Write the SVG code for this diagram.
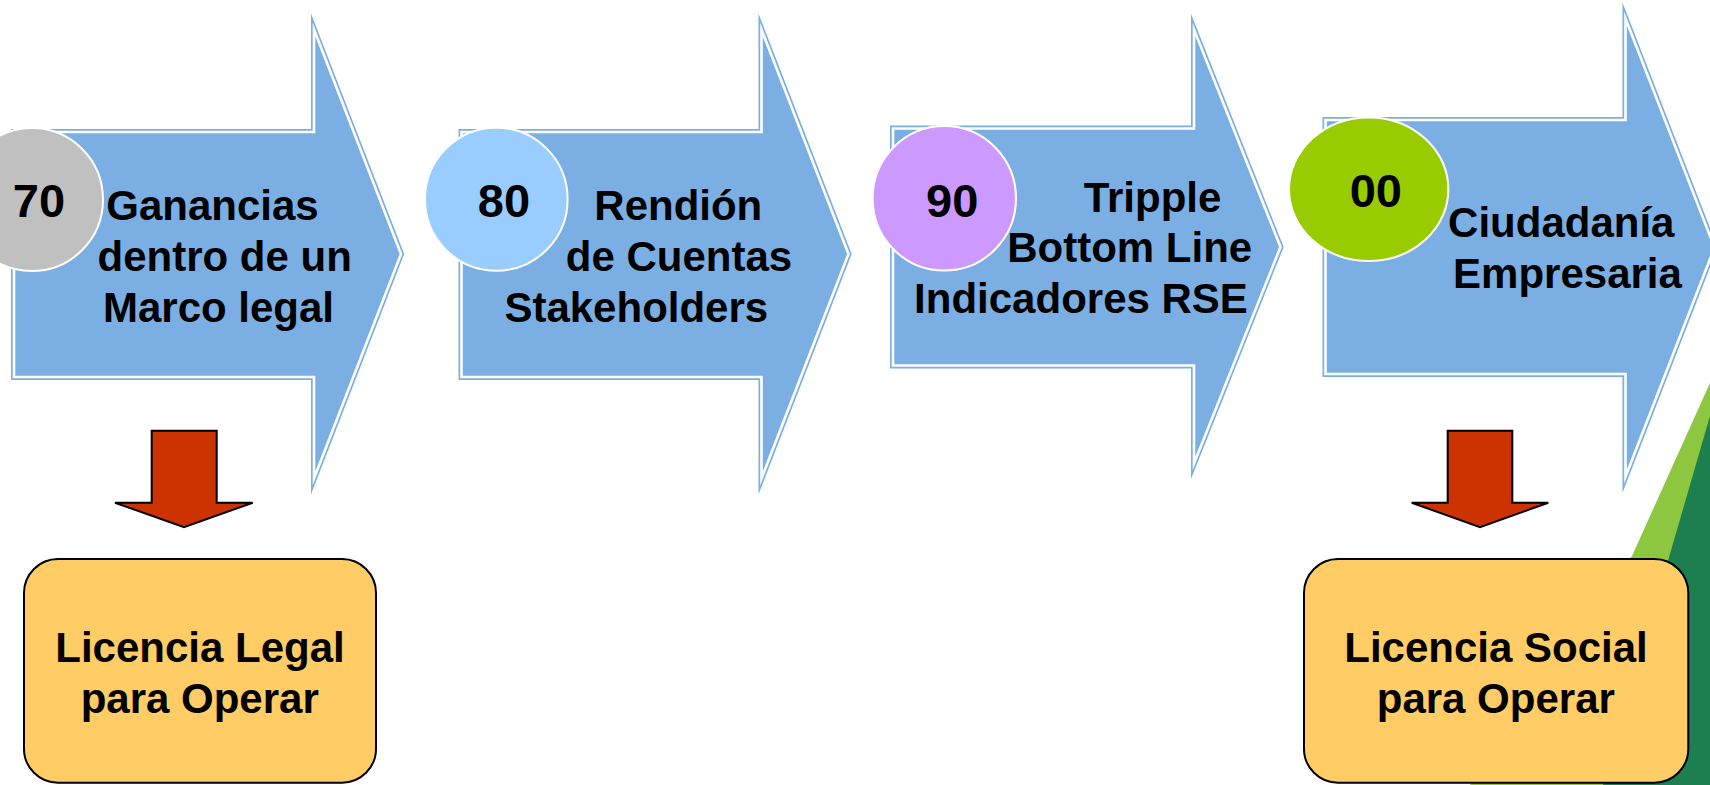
<svg xmlns="http://www.w3.org/2000/svg" width="1710" height="785" viewBox="0 0 1710 785">
<style>
.bg{fill:#ffffff}
.arrow-o{fill:#7BAEE3;stroke:#7BAEE3;stroke-width:6;stroke-linejoin:miter;stroke-miterlimit:20}
.arrow-w{fill:none;stroke:#ffffff;stroke-width:2.6;stroke-linejoin:miter;stroke-miterlimit:20}
.circ{stroke:#ffffff;stroke-width:2}
.t{font-family:"Liberation Sans",Arial,sans-serif;font-weight:bold;fill:#000000;text-anchor:middle}
.lbl{font-size:42px}
.num{font-size:47px}
.down{fill:#CC3300;stroke:#000000;stroke-width:2;stroke-linejoin:miter}
.box{fill:#FFCC66;stroke:#000000;stroke-width:2}
</style>
<rect class="bg" x="0" y="0" width="1710" height="785"/>
<g id="background">
<polygon points="1710,383 1710,785 1470,785 1632,556" fill="#8DC63F"/>
<polygon points="1710,416 1710,785 1603,785" fill="#1D7F4F"/>
</g>
<g id="step70">
<path class="arrow-o" d="M14,132 H314 V29.5 L401,254 L314,478.5 V377 H14 Z"/>
<path class="arrow-w" d="M14,132 H314 V29.5 L401,254 L314,478.5 V377 H14 Z"/>
<ellipse class="circ" cx="32" cy="199.5" rx="71" ry="71.5" fill="#C0C0C0"/>
<text class="t num" x="39" y="217">70</text>
<text class="t lbl" x="212.5" y="220">Ganancias</text>
<text class="t lbl" x="224.7" y="270.5">dentro de un</text>
<text class="t lbl" x="218.5" y="321.7">Marco legal</text>
</g>
<g id="step80">
<path class="arrow-o" d="M461.5,132 H761.5 V29.5 L848.5,254 L761.5,478.5 V377 H461.5 Z"/>
<path class="arrow-w" d="M461.5,132 H761.5 V29.5 L848.5,254 L761.5,478.5 V377 H461.5 Z"/>
<ellipse class="circ" cx="496.3" cy="199.2" rx="71.3" ry="71.5" fill="#99CCFF"/>
<text class="t num" x="504" y="217">80</text>
<text class="t lbl" x="678.3" y="220">Rendión</text>
<text class="t lbl" x="679" y="270.5">de Cuentas</text>
<text class="t lbl" x="636.3" y="321.7">Stakeholders</text>
</g>
<g id="step90">
<path class="arrow-o" d="M893,128.5 H1194 V29.5 L1280.5,247 L1194,463.5 V365.5 H893 Z"/>
<path class="arrow-w" d="M893,128.5 H1194 V29.5 L1280.5,247 L1194,463.5 V365.5 H893 Z"/>
<ellipse class="circ" cx="944.3" cy="198.3" rx="71.7" ry="72.3" fill="#CC99FF"/>
<text class="t num" x="952.2" y="217">90</text>
<text class="t lbl" x="1152.5" y="211.7">Tripple</text>
<text class="t lbl" x="1129.7" y="262.3">Bottom Line</text>
<text class="t lbl" x="1081" y="313.3">Indicadores RSE</text>
</g>
<g id="step00">
<path class="arrow-o" d="M1325.5,120 H1625.5 V18.5 L1714.5,247.6 L1625.5,476.8 V374 H1325.5 Z"/>
<path class="arrow-w" d="M1325.5,120 H1625.5 V18.5 L1714.5,247.6 L1625.5,476.8 V374 H1325.5 Z"/>
<ellipse class="circ" cx="1368.7" cy="189.2" rx="79.7" ry="71.8" fill="#99CC00"/>
<text class="t num" x="1375.8" y="207.3">00</text>
<text class="t lbl" x="1561.3" y="237.3">Ciudadanía</text>
<text class="t lbl" x="1567.5" y="288.3">Empresaria</text>
</g>
<g id="connectors">
<polygon class="down" points="151.7,430.7 216.7,430.7 216.7,502.7 252.7,502.7 184,527.3 115,502.7 151.7,502.7"/>
<polygon class="down" points="1447.7,430.7 1512.3,430.7 1512.3,502.7 1548.3,502.7 1480,527.3 1411.7,502.7 1447.7,502.7"/>
</g>
<g id="licencia-legal">
<rect class="box" x="24" y="559" width="352" height="223.7" rx="34" ry="34"/>
<text class="t lbl" x="200" y="661.7">Licencia Legal</text>
<text class="t lbl" x="199.7" y="713.3">para Operar</text>
</g>
<g id="licencia-social">
<rect class="box" x="1304" y="559" width="384.3" height="223.7" rx="34" ry="34"/>
<text class="t lbl" x="1496" y="661.7">Licencia Social</text>
<text class="t lbl" x="1495.8" y="713.3">para Operar</text>
</g>
</svg>
